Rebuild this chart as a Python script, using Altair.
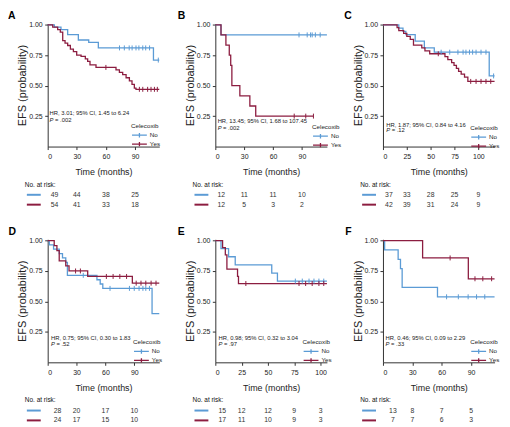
import altair as alt
import pandas as pd

FONT = "Liberation Sans"
BLUE = "#5b9bd5"
RED = "#8c1d40"
SYM = "M-2,0L2,0M0,-0.6L0,0.6"

# ---------------- data ----------------
# Panel A
A_no_t = [0, 6.9, 13.7, 20.6, 31.6, 42.3, 52.2, 109.0]
A_no_s = [1.0, 0.98, 0.96, 0.92, 0.875, 0.855, 0.81, 0.71]
A_no_cens = [74, 79, 84, 87, 91, 94, 98, 101, 105, 114]
A_yes_t = [0, 5.2, 10.3, 13.0, 15.5, 17.9, 20.6, 23.4, 26.5, 29.9, 34.4, 38.8, 41.2,
           43.6, 49.8, 70.4, 73.9, 77.3, 80.8, 84.2, 86.9, 89.3, 91.0]
A_yes_s = [1.0, 0.98, 0.96, 0.94, 0.87, 0.85, 0.83, 0.80, 0.78, 0.75, 0.74, 0.72, 0.70,
           0.67, 0.65, 0.63, 0.61, 0.59, 0.565, 0.54, 0.51, 0.48, 0.47]
A_yes_cens = [60, 94.5, 98, 103, 106.5, 110, 113]
A_end = [115, 115]
A_risk_t = [0, 30, 60, 90]
A_risk_no = [49, 44, 38, 25]
A_risk_yes = [54, 41, 33, 18]

# Panel B
B_no_t = [0, 5.9]
B_no_s = [1.0, 0.917]
B_no_cens = [87, 95.5, 99, 100.7, 104, 109]
B_yes_t = [0, 5.9, 11.0, 14.5, 16.0, 17.2, 25.5, 35.9, 42.0]
B_yes_s = [1.0, 0.917, 0.833, 0.75, 0.667, 0.5, 0.417, 0.333, 0.25]
B_yes_cens = [82, 94, 102]
B_end = [116, 102]
B_risk_t = [0, 30, 60, 90]
B_risk_no = [12, 11, 11, 10]
B_risk_yes = [12, 5, 3, 2]

# Panel C
C_no_t = [0, 16.6, 21.0, 24.0, 33.8, 43.4, 53.8, 111.4]
C_no_s = [1.0, 0.973, 0.946, 0.92, 0.865, 0.81, 0.775, 0.58]
C_no_cens = [61, 70, 78.6, 84, 87, 90.7, 94, 97.6, 102.8, 108, 116]
C_yes_t = [0, 14.8, 16.6, 21.7, 25.0, 28.6, 32.0, 40.7, 44.0, 49.0, 65.0, 68.0, 72.0,
           74.5, 77.0, 79.3, 82.0, 85.5, 89.0]
C_yes_s = [1.0, 0.976, 0.952, 0.929, 0.905, 0.881, 0.833, 0.81, 0.786, 0.762, 0.738,
           0.714, 0.69, 0.666, 0.642, 0.618, 0.594, 0.57, 0.535]
C_yes_cens = [58, 92, 97.6, 102.8, 108, 113]
C_end = [117, 117]
C_risk_t = [0, 25, 50, 75, 100]
C_risk_no = [37, 33, 28, 25, 9]
C_risk_yes = [42, 39, 31, 24, 9]

# Panel D
D_no_t = [0, 1.7, 6.1, 12.0, 15.4, 18.8, 20.5, 51.2, 54.6, 57.3, 108.5]
D_no_s = [1.0, 0.964, 0.929, 0.893, 0.857, 0.821, 0.714, 0.678, 0.643, 0.607, 0.40]
D_no_cens = [37, 64.8, 85, 90, 95, 99, 102, 105.8]
D_yes_t = [0, 6.8, 9.6, 12.0, 18.8, 22.2, 41.6, 88.0]
D_yes_s = [1.0, 0.958, 0.917, 0.833, 0.792, 0.75, 0.705, 0.65]
D_yes_cens = [29, 34, 61, 68, 75, 82, 92, 97, 102, 107.5, 112.6]
D_end = [116, 116]
D_risk_t = [0, 30, 60, 90]
D_risk_no = [28, 20, 17, 10]
D_risk_yes = [24, 17, 15, 10]

# Panel E
E_no_t = [0, 5.4, 12.6, 18.9, 53.6, 59.0]
E_no_s = [1.0, 0.933, 0.867, 0.80, 0.733, 0.667]
E_no_cens = [76, 82.6, 89, 93.7, 98.4, 103]
E_yes_t = [0, 6.9, 9.5, 11.0, 21.1, 22.0]
E_yes_s = [1.0, 0.941, 0.882, 0.765, 0.706, 0.647]
E_yes_cens = [29, 79.5, 85.8, 92, 98.4, 103]
E_end = [106, 106]
E_risk_t = [0, 25, 50, 75, 100]
E_risk_no = [15, 12, 12, 9, 3]
E_risk_yes = [17, 11, 10, 9, 3]

# Panel F
F_no_t = [0, 1.7, 15.5, 17.9, 19.6, 55.7]
F_no_s = [1.0, 0.923, 0.846, 0.769, 0.615, 0.538]
F_no_cens = [65, 77, 87, 95.6, 104]
F_yes_t = [0, 40.5, 87.2]
F_yes_s = [1.0, 0.857, 0.686]
F_yes_cens = [68.6, 94, 102, 111]
F_end = [114, 114]
F_risk_t = [0, 30, 60, 90]
F_risk_no = [13, 8, 7, 5]
F_risk_yes = [7, 7, 6, 3]

HR_TEXT = {
    "A": ("HR, 3.01; 95% CI, 1.45 to 6.24", "= .002"),
    "B": ("HR, 13.45; 95% CI, 1.68 to 107.45", "= .002"),
    "C": ("HR, 1.87; 95% CI, 0.84 to 4.16", "= .12"),
    "D": ("HR, 0.75; 95% CI, 0.30 to 1.83", "= .52"),
    "E": ("HR, 0.98; 95% CI, 0.32 to 3.04", "= .97"),
    "F": ("HR, 0.46; 95% CI, 0.09 to 2.29", "= .33"),
}

# ---------------- layout parameters ----------------
LAYOUT = {
    "A": dict(xmax=115, xticks=[0, 30, 60, 90], ann=(2.0, 0.272, 0.215), leg=(84, 100.5), dx0=7, ldx=-40),
    "B": dict(xmax=116, xticks=[0, 30, 60, 90], ann=(2.4, 0.207, 0.156), leg=(97.5, 101.5), dx0=6, ldx=-38),
    "C": dict(xmax=117, xticks=[0, 25, 50, 75, 100], ann=(3.4, 0.18, 0.135), leg=(88, 102.5), dx0=6, ldx=-39),
    "D": dict(xmax=116, xticks=[0, 30, 60, 90], ann=(3.4, 0.196, 0.15), leg=(86, 101), dx0=10, ldx=-39.5),
    "E": dict(xmax=106, xticks=[0, 25, 50, 75, 100], ann=(3.0, 0.196, 0.15), leg=(88, 101), dx0=7, ldx=-38),
    "F": dict(xmax=114, xticks=[0, 30, 60, 90], ann=(2.7, 0.196, 0.15), leg=(88, 101), dx0=10, ldx=-38),
}
RISK_ROWS = {"hdr": -0.312, "No": -0.396, "Yes": -0.477}   # rows of the at-risk table, below the axis

DATA = {
    "A": (A_no_t, A_no_s, A_no_cens, A_yes_t, A_yes_s, A_yes_cens, A_end, A_risk_t, A_risk_no, A_risk_yes),
    "B": (B_no_t, B_no_s, B_no_cens, B_yes_t, B_yes_s, B_yes_cens, B_end, B_risk_t, B_risk_no, B_risk_yes),
    "C": (C_no_t, C_no_s, C_no_cens, C_yes_t, C_yes_s, C_yes_cens, C_end, C_risk_t, C_risk_no, C_risk_yes),
    "D": (D_no_t, D_no_s, D_no_cens, D_yes_t, D_yes_s, D_yes_cens, D_end, D_risk_t, D_risk_no, D_risk_yes),
    "E": (E_no_t, E_no_s, E_no_cens, E_yes_t, E_yes_s, E_yes_cens, E_end, E_risk_t, E_risk_no, E_risk_yes),
    "F": (F_no_t, F_no_s, F_no_cens, F_yes_t, F_yes_s, F_yes_cens, F_end, F_risk_t, F_risk_no, F_risk_yes),
}

W, H = 112.5, 124


def step_at(ts, ss, t):
    v = ss[0]
    for ti, si in zip(ts, ss):
        if ti <= t:
            v = si
    return v


def panel(key):
    no_t, no_s, no_c, yes_t, yes_s, yes_c, ends, rt, rno, ryes = DATA[key]
    lay = LAYOUT[key]
    curve, cens = [], []
    for g, ts, ss, cs, end in [("No", no_t, no_s, no_c, ends[0]), ("Yes", yes_t, yes_s, yes_c, ends[1])]:
        for t, s in zip(ts, ss):
            curve.append({"group": g, "t": t, "s": s})
        curve.append({"group": g, "t": end, "s": ss[-1]})
        for c in cs:
            cens.append({"group": g, "t": c, "s": step_at(ts, ss, c)})
    curve_df = pd.DataFrame(curve)
    cens_df = pd.DataFrame(cens)

    xs = alt.Scale(domain=[0, lay["xmax"]], nice=False, zero=False)
    ys = alt.Scale(domain=[0, 1.01], nice=False, zero=False)
    X = alt.X("t:Q", scale=xs,
              axis=alt.Axis(values=lay["xticks"], format="d", title="Time (months)"))
    Y = alt.Y("s:Q", scale=ys,
              axis=alt.Axis(values=[0.25, 0.5, 0.75, 1.0], format=".2f",
                            title="EFS (probability)", labelFlush=False))
    S = alt.Stroke("group:N", scale=alt.Scale(domain=["No", "Yes"], range=[BLUE, RED]),
                   legend=alt.Legend(title="Celecoxib", orient="none",
                                     legendX=lay["leg"][0], legendY=lay["leg"][1],
                                     symbolSize=56, clipHeight=7.5))

    lines = alt.Chart(curve_df).mark_line(interpolate="step-after", strokeWidth=1.3).encode(
        x=X, y=Y, stroke=S)
    ticks = alt.Chart(cens_df).mark_point(shape="M0,-1L0,1", size=25, filled=False,
                                          strokeWidth=1, opacity=1).encode(x=X, y=Y, stroke=S)
    ax, hy, py = lay["ann"]
    hr, pv = HR_TEXT[key]
    hr_df = pd.DataFrame({"t": [ax], "s": [hy], "txt": [hr]})
    p_df = pd.DataFrame({"t": [ax], "s": [py], "txt": ["P"]})
    pv_df = pd.DataFrame({"t": [ax], "s": [py], "txt": [pv]})
    tprops = dict(align="left", baseline="middle", font=FONT, fontSize=5.9, color="#222")
    hr_t = alt.Chart(hr_df).mark_text(**tprops).encode(x=X, y=Y, text="txt:N")
    p_t = alt.Chart(p_df).mark_text(fontStyle="italic", **tprops).encode(x=X, y=Y, text="txt:N")
    pv_t = alt.Chart(pv_df).mark_text(dx=5.5, **tprops).encode(x=X, y=Y, text="txt:N")

    # at-risk table drawn below the axis with the same scales
    rows = []
    for g, vals in [("No", rno), ("Yes", ryes)]:
        for t, n in zip(rt, vals):
            rows.append({"row": g, "t": t, "s": RISK_ROWS[g], "n": str(n)})
    risk_df = pd.DataFrame(rows)
    rprops = dict(baseline="middle", font=FONT, fontSize=6.9, color="#333")
    cnt = alt.Chart(risk_df).transform_filter("datum.t > 0").mark_text(**rprops).encode(
        x=X, y=Y, text="n:N")
    cnt0 = alt.Chart(risk_df).transform_filter("datum.t == 0").mark_text(
        dx=lay["dx0"], **rprops).encode(x=X, y=Y, text="n:N")
    hdr = alt.Chart(pd.DataFrame({"t": [0], "s": [RISK_ROWS["hdr"]], "txt": ["No. at risk:"]})).mark_text(
        align="left", dx=-23, baseline="middle", font=FONT, fontSize=6.5, color="#111").encode(
        x=X, y=Y, text="txt:N")
    smp = alt.Chart(pd.DataFrame({"s": [RISK_ROWS["No"], RISK_ROWS["Yes"]], "c": [BLUE, RED]})).mark_rule(
        strokeWidth=2).encode(x=alt.value(-21), x2=alt.value(-7), y=Y,
                              color=alt.Color("c:N", scale=None))

    return alt.layer(lines, ticks, hr_t, p_t, pv_t, smp, hdr, cnt0, cnt).properties(
        width=W, height=H,
        title=alt.TitleParams(key, anchor="start", frame="group", dx=lay["ldx"], dy=8, offset=7,
                              font=FONT, fontSize=10.5, fontWeight="bold", color="black"))


chart = alt.concat(
    *[panel(k) for k in "ABCDEF"], columns=3, spacing={"row": 93.5, "column": 56}, bounds="flush"
).resolve_scale(stroke="independent").resolve_legend(stroke="independent").properties(
    padding={"left": 0, "top": 1, "right": 2, "bottom": 0}
).configure_view(stroke=None).configure_axis(
    grid=False, domainColor="#333", tickColor="#333", domainWidth=1, tickWidth=1, tickSize=3,
    labelFont=FONT, labelFontSize=7, labelColor="#222",
    titleFont=FONT, titleFontSize=9, titleFontWeight="normal", titleColor="#222",
).configure_axisX(labelPadding=3, titlePadding=8.5).configure_axisY(
    titleFontSize=11, titlePadding=1, labelPadding=2.5
).configure_legend(
    titleFont=FONT, titleFontSize=6.3, titleFontWeight="normal", titleColor="#222",
    labelFont=FONT, labelFontSize=6.3, labelColor="#222",
    symbolType=SYM, symbolSize=56, symbolStrokeWidth=1.3, rowPadding=1, titlePadding=2,
    padding=0, labelOffset=6, symbolOffset=4
)

chart.save("out.html", embed_options={"renderer": "svg", "actions": False})
